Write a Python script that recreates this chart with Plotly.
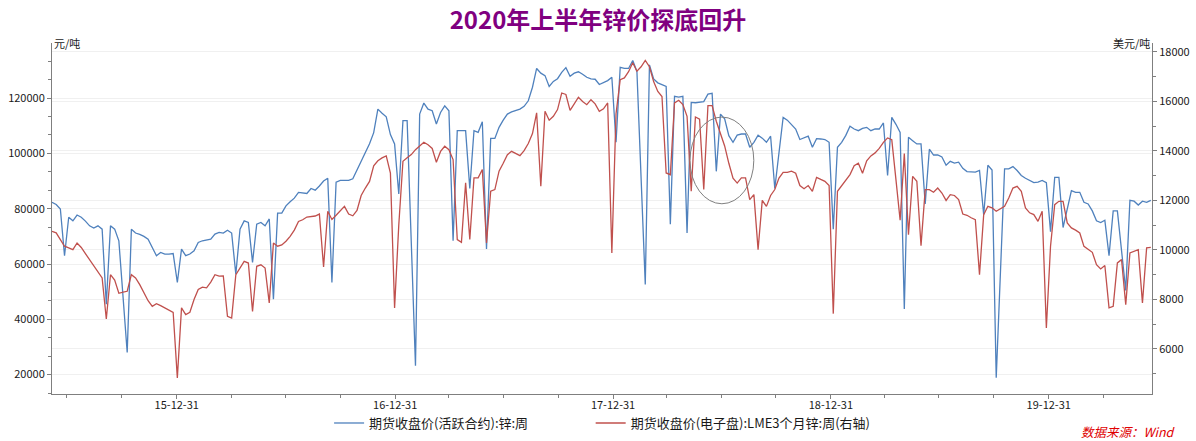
import pandas as pd
import plotly.graph_objects as go

# ---------------- data ----------------
start_date = "2015-06-05"   # first weekly observation (Friday)

shfe_zinc = [  # 期货收盘价(活跃合约):锌:周  (元/吨, left axis)
    82300, 81500, 79900, 63000, 76900, 75600, 77700, 76900, 75500, 73800,
    73000, 73800, 72600, 45500, 73800, 72600, 68400, 48000, 28000, 72600,
    71200, 70700, 70000, 69000, 66000, 63000, 64200, 63600, 63600, 63800,
    53300, 65400, 63000, 63600, 64800, 67800, 68400, 68700, 69000, 70800,
    71400, 71200, 72200, 71200, 56300, 72600, 75600, 75000, 60600, 74400,
    75000, 73800, 76300, 47300, 78400, 78400, 81000, 82500, 83800, 85900,
    85700, 85500, 87300, 86700, 88200, 90000, 91000, 53300, 89600, 90200,
    90200, 90200, 90800, 94000, 97500, 100500, 103500, 107500, 116000, 114500,
    113200, 106800, 103400, 85300, 111800, 111800, 67000, 23200, 114200, 118200,
    116000, 115400, 110600, 114800, 117200, 115400, 68400, 108200, 108200, 108200,
    87300, 108200, 107600, 111400, 65400, 105400, 105400, 109400, 112000, 114200,
    115000, 115400, 116000, 117000, 119000, 123900, 130700, 129000, 128100, 124200,
    126000, 127000, 129300, 131000, 127900, 129000, 129500, 128600, 127500, 126900,
    126800, 124900, 125500, 126300, 127500, 104000, 131100, 130700, 130700, 133600,
    129600, 91000, 52600, 132000, 126900, 125500, 124800, 124200, 74400, 120600,
    120300, 120600, 71200, 118400, 118300, 118500, 118700, 121400, 121700, 93500,
    114200, 112500, 106400, 104000, 106600, 107000, 107000, 102200, 104000, 106600,
    105500, 104000, 106200, 87300, 99700, 113000, 112000, 110500, 108800, 105000,
    105600, 106200, 102200, 105300, 105200, 105000, 104000, 72600, 102200, 104000,
    106500, 109800, 108800, 108200, 109000, 109400, 108200, 108800, 108800, 111000,
    92000, 113000, 110500, 107600, 43700, 105800, 104600, 103400, 103400, 81700,
    101500, 99400, 99400, 98700, 95700, 97100, 96500, 96800, 94600, 93400,
    93300, 93200, 93800, 77800, 95700, 94000, 18900, 55000, 94400, 94400,
    95200, 93800, 92000, 91000, 90200, 89400, 89600, 90200, 89400, 71700,
    91300, 91300, 73200, 80000, 86500, 85900, 85900, 82300, 81700, 79200,
    75600, 75000, 75800, 63000, 79200, 79200, 65000, 50400, 83000, 82700,
    81300, 82700, 82300, 83000,
]

lme_zinc = [  # 期货收盘价(电子盘):LME3个月锌:周(右轴)  (美元/吨, right axis)
    10750, 10690, 10420, 10150, 10080, 10010, 10280, 10100, 9850, 9610,
    9340, 9120, 8870, 7210, 9000, 8780, 8250, 8300, 8330, 9000,
    8870, 8600, 8300, 7950, 7720, 7830, 7750, 7650, 7560, 7480,
    4830, 7660, 7390, 7480, 8000, 8400, 8500, 8470, 8700, 9000,
    8940, 8950, 7320, 7250, 9000, 9300, 9540, 9470, 7520, 9340,
    9400, 9270, 7860, 10280, 10150, 10200, 10350, 10550, 10800, 11150,
    11220, 11330, 11350, 11370, 11450, 9310, 11560, 11230, 11400, 11560,
    11760, 11450, 11380, 11600, 12200, 12500, 12770, 13400, 13600, 13720,
    13800, 13100, 7660, 11000, 13580, 13720, 13850, 14050, 14200, 14350,
    14250, 14100, 13540, 13980, 14190, 14050, 13650, 10420, 10310, 12710,
    10420, 12910, 12910, 13250, 10280, 12370, 12440, 13180, 13500, 13850,
    13985, 13900, 13810, 14010, 14300, 14700, 15540, 12570, 15600, 15240,
    15400, 15670, 16340, 16280, 15640, 15900, 16170, 16000, 15870, 16070,
    15900, 15600, 15700, 15940, 9880, 15500, 16880, 16950, 17200, 17560,
    17220, 17400, 17660, 17400, 16800, 16400, 16200, 13110, 13040, 15940,
    16045, 15870, 15400, 12370, 15370, 15280, 12440, 15830, 15830, 15200,
    14700, 14200, 13500, 12900, 12700, 12910, 12910, 12030, 12235, 10013,
    12000, 11760, 12200, 12440, 12900, 13136, 13136, 13180, 13100, 12600,
    12470, 12600, 12370, 12934, 12850, 12772, 12600, 7427, 12370, 12600,
    12800, 13043, 13400, 13500, 13100, 13600, 13800, 13920, 14100, 14348,
    14526, 14457, 12840, 11200, 13891, 10619, 12975, 12772, 10174, 12437,
    12437, 12330, 12500, 12300, 12000, 12235, 12200, 12035, 11450, 11400,
    11300, 11225, 9003, 11427, 11762, 11700, 11560, 11650, 11762, 12100,
    12500, 12570, 12370, 11700, 11500, 11427, 11156, 11560, 6850, 10150,
    11830, 11964, 11964, 11090, 10890, 10800, 10686, 10146, 10013, 9904,
    9407, 9233, 9370, 7657, 7722, 9475, 9609, 7790, 9880, 9950,
    10013, 7860, 10082, 10100,
]

x_tick_dates = ["2015-12-31", "2016-12-31", "2017-12-31", "2018-12-31", "2019-12-31"]
x_tick_labels = ["15-12-31", "16-12-31", "17-12-31", "18-12-31", "19-12-31"]
x_minor_dates = [
    "2015-06-30", "2015-09-30", "2016-03-31", "2016-06-30", "2016-09-30",
    "2017-03-31", "2017-06-30", "2017-09-30", "2018-03-31", "2018-06-30",
    "2018-09-30", "2019-03-31", "2019-06-30", "2019-09-30", "2020-03-31",
]

name_shfe = "期货收盘价(活跃合约):锌:周"
name_lme = "期货收盘价(电子盘):LME3个月锌:周(右轴)"
title_text = "2020年上半年锌价探底回升"
left_unit = "元/吨"
right_unit = "美元/吨"
source_text = "数据来源：Wind"

# ---------------- figure ----------------
dates_shfe = pd.date_range(start_date, periods=len(shfe_zinc), freq="7D")
dates_lme = pd.date_range(start_date, periods=len(lme_zinc), freq="7D")

FONT = "Noto Sans CJK SC, Noto Sans, sans-serif"
AXIS_COLOR = "#7f7f7f"
GRID_COLOR = "#f0f0f0"
TICK_FONT = dict(family=FONT, size=11, color="#1a1a1a")
LEGEND_FONT = dict(family=FONT, size=13, color="#1a1a1a")

fig = go.Figure()
fig.add_trace(go.Scatter(
    x=dates_shfe, y=shfe_zinc, name=name_shfe, mode="lines",
    line=dict(color="#4F81BD", width=1.3), legend="legend",
))
fig.add_trace(go.Scatter(
    x=dates_lme, y=lme_zinc, name=name_lme, mode="lines", yaxis="y2",
    line=dict(color="#C0504D", width=1.3), legend="legend2",
))

fig.update_layout(
    width=1196, height=441,
    margin=dict(l=52, r=44, t=43, b=47, autoexpand=False),
    paper_bgcolor="white", plot_bgcolor="white",
    font=dict(family=FONT, size=11, color="#1a1a1a"),
    title=dict(
        text="<b>" + title_text + "</b>", x=0.5, xanchor="center",
        y=1 - 21 / 441, yanchor="middle", yref="container",
        font=dict(family=FONT, size=24, color="#800080"),
    ),
    showlegend=True,
    legend=dict(
        orientation="h", x=0.2519, xanchor="left", y=-0.040, yanchor="top",
        font=LEGEND_FONT, itemwidth=30, bgcolor="rgba(0,0,0,0)",
    ),
    legend2=dict(
        orientation="h", x=0.4897, xanchor="left", y=-0.040, yanchor="top",
        font=LEGEND_FONT, itemwidth=30, bgcolor="rgba(0,0,0,0)",
    ),
    xaxis=dict(
        type="date", range=["2015-06-05", "2020-06-21"], automargin=False,
        tickmode="array", tickvals=x_tick_dates, ticktext=x_tick_labels,
        ticks="outside", ticklen=4, tickcolor=AXIS_COLOR,
        ticklabelstandoff=-3,
        showline=True, linecolor=AXIS_COLOR, linewidth=1,
        showgrid=False, zeroline=False, tickfont=TICK_FONT,
        minor=dict(tickmode="array", tickvals=x_minor_dates, ticks="outside",
                   ticklen=3, tickcolor=AXIS_COLOR, showgrid=False),
    ),
    yaxis=dict(
        range=[13000, 139900], tickmode="linear", tick0=0, dtick=20000,
        automargin=False,
        ticks="outside", ticklen=4, tickcolor=AXIS_COLOR,
        showline=True, linecolor=AXIS_COLOR, linewidth=1,
        showgrid=True, gridcolor=GRID_COLOR, zeroline=False,
        tickfont=TICK_FONT, tickformat="d",
        minor=dict(tick0=0, dtick=20000 / 3, ticks="outside", ticklen=3,
                   tickcolor=AXIS_COLOR, showgrid=False),
    ),
    yaxis2=dict(
        overlaying="y", side="right", automargin=False,
        range=[4180, 18360], tickmode="linear", tick0=0, dtick=2000,
        ticks="outside", ticklen=4, tickcolor=AXIS_COLOR,
        showline=True, linecolor=AXIS_COLOR, linewidth=1,
        showgrid=True, gridcolor=GRID_COLOR, zeroline=False,
        tickfont=TICK_FONT, tickformat="d",
        minor=dict(tick0=0, dtick=1000, ticks="outside", ticklen=3,
                   tickcolor=AXIS_COLOR, showgrid=False),
    ),
    annotations=[
        dict(text=left_unit, xref="paper", yref="paper", x=0, y=1,
             xanchor="left", yanchor="middle", showarrow=False,
             font=dict(family=FONT, size=11, color="#1a1a1a")),
        dict(text=right_unit, xref="paper", yref="paper", x=1, y=1,
             xanchor="right", yanchor="middle", showarrow=False,
             font=dict(family=FONT, size=11, color="#1a1a1a")),
        dict(text="<i>" + source_text + "</i>", xref="paper", yref="paper",
             x=1.024, y=-0.108, xanchor="right", yanchor="middle",
             showarrow=False, font=dict(family=FONT, size=12.5, color="#E00000")),
    ],
    shapes=[
        dict(type="circle", xref="paper", yref="paper",
             x0=0.580, x1=0.638, y0=0.542, y1=0.789,
             line=dict(color="#808080", width=1)),
    ],
)

fig.write_html(
    "out.html",
    config={"displayModeBar": False},
    post_script="document.body.style.margin='0';document.body.style.padding='0';",
)
